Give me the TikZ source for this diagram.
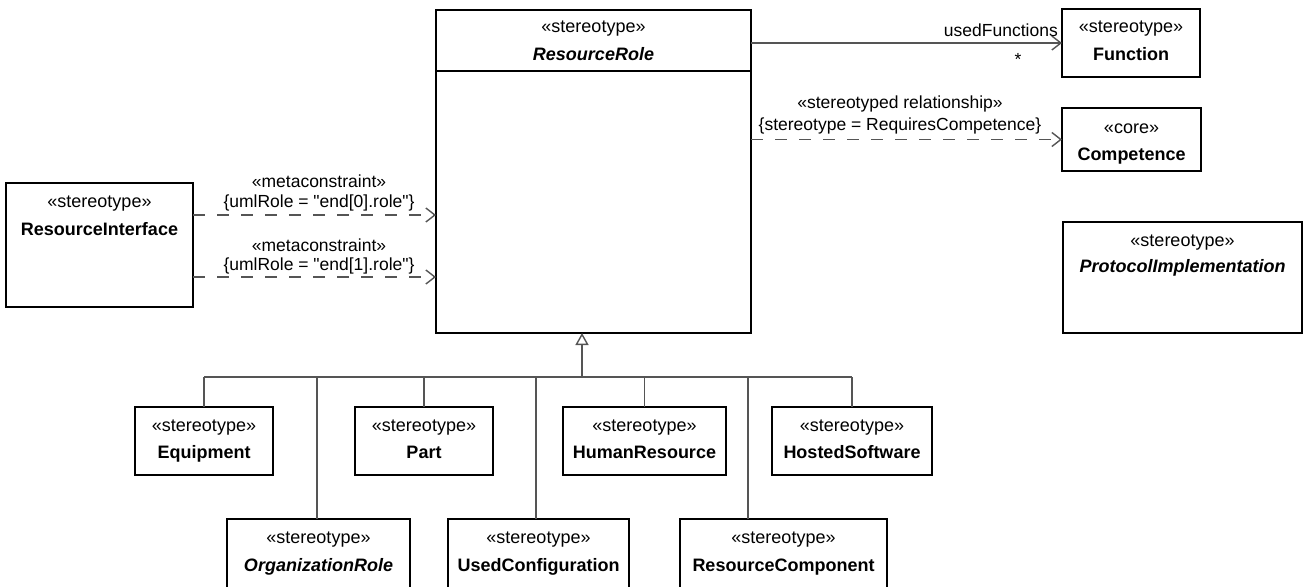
\documentclass[tikz,border=0pt]{standalone}
\usepackage{fontspec}
\setmainfont{Liberation Sans}
\usetikzlibrary{arrows.meta}
\definecolor{linegray}{RGB}{85,85,85}
\tikzset{
  classbox/.style={draw=black, line width=1.8pt, fill=white, anchor=north west, inner sep=0pt, outer sep=0pt},
  stereo/.style={anchor=base, font=\fontsize{18}{21}\selectfont},
  cname/.style={anchor=base, font=\fontsize{18}{21}\selectfont\bfseries},
  cnamei/.style={cname, font=\fontsize{18}{21}\selectfont\bfseries\itshape},
  lbl/.style={anchor=base, inner sep=0pt, font=\fontsize{17.5}{21}\selectfont},
  genline/.style={draw=linegray, line width=1.4pt},
  assoc/.style={genline, -{Straight Barb[length=9pt,width=14pt]}},
  depend/.style={assoc, dash pattern=on 12pt off 12pt},
}
\begin{document}
\begin{tikzpicture}[x=1pt, y=-1pt]
	\useasboundingbox (0,0) rectangle (1305,586);
	\clip (0,0) rectangle (1305,586);
	% central class
	\node[classbox, minimum width=315pt, minimum height=323pt] (rrole) at (436,10) {};
	\draw[line width=1.8pt] ([yshift=-61pt]rrole.north west) -- ([yshift=-61pt]rrole.north east);
	\node[stereo] (rrole-st) at ([yshift=-23pt]rrole.north) {«stereotype»};
	\node[cnamei] (rrole-nm) at ([yshift=-50pt]rrole.north) {ResourceRole};
	% right column
	\node[classbox, minimum width=138pt, minimum height=68pt] (func) at (1062,9) {};
	\node[stereo] (func-st) at ([yshift=-24pt]func.north) {«stereotype»};
	\node[cname] (func-nm) at ([yshift=-51pt]func.north) {Function};
	\node[classbox, minimum width=139pt, minimum height=63pt] (compet) at (1062,108) {};
	\node[stereo] (compet-st) at ([yshift=-25pt]compet.north) {«core»};
	\node[cname] (compet-nm) at ([yshift=-52pt]compet.north) {Competence};
	\node[classbox, minimum width=239pt, minimum height=111pt] (proto) at (1063,222) {};
	\node[stereo] (proto-st) at ([yshift=-24pt]proto.north) {«stereotype»};
	\node[cnamei] (proto-nm) at ([yshift=-50pt]proto.north) {ProtocolImplementation};
	% left class
	\node[classbox, minimum width=187pt, minimum height=124pt] (rif) at (6,183) {};
	\node[stereo] (rif-st) at ([yshift=-24pt]rif.north) {«stereotype»};
	\node[cname] (rif-nm) at ([yshift=-52pt]rif.north) {ResourceInterface};
	% associations
	\draw[assoc] (func.west -| rrole.east) -- (func.west);
	\node[lbl, anchor=base east] (usedfn) at (1058,37) {usedFunctions};
	\node[lbl] (mult) at (1018,65) {*};
	\draw[depend] (compet.west -| rrole.east) -- (compet.west);
	\node[lbl] (relst) at (900,108) {«stereotyped relationship»};
	\node[lbl] (reltag) at (900,130) {\{stereotype = RequiresCompetence\}};
	\draw[depend] ([yshift=30pt]rif.east) -- ([yshift=30pt]rif.east -| rrole.west);
	\node[lbl] (meta0) at (319,187) {«metaconstraint»};
	\node[lbl] (tag0) at (319,207) {\{umlRole = \textquotedbl end[0].role\textquotedbl\}};
	\draw[depend] ([yshift=-32pt]rif.east) -- ([yshift=-32pt]rif.east -| rrole.west);
	\node[lbl] (meta1) at (319,251) {«metaconstraint»};
	\node[lbl] (tag1) at (319,270) {\{umlRole = \textquotedbl end[1].role\textquotedbl\}};
	% generalization tree
	\coordinate (genbus) at (582,377);
	\draw[genline, -{Triangle[open, length=12pt, width=13pt]}] (genbus) -- (genbus |- rrole.south);
	\foreach \n/\x/\w/\t in {equip/135/138pt/Equipment, part/355/138pt/Part, human/563/163pt/HumanResource, hosted/772/160pt/HostedSoftware} {
		\node[classbox, minimum width=\w, minimum height=68pt] (\n) at (\x,407) {};
		\node[stereo] (\n-st) at ([yshift=-24pt]\n.north) {«stereotype»};
		\node[cname] (\n-nm) at ([yshift=-51pt]\n.north) {\t};
		\draw[genline] (\n.north) -- (\n.north |- genbus);
	}
	\foreach \n/\x/\w/\lx/\t in {orgrole/227/183pt/317/\textit{OrganizationRole}, usedcfg/448/181pt/536/UsedConfiguration, rescomp/680/207pt/748/ResourceComponent} {
		\node[classbox, minimum width=\w, minimum height=80pt] (\n) at (\x,519) {};
		\node[stereo] (\n-st) at ([yshift=-24pt]\n.north) {«stereotype»};
		\node[cname] (\n-nm) at ([yshift=-52pt]\n.north) {\t};
		\draw[genline] (\lx,0 |- \n.north) -- (\lx,0 |- genbus);
	}
	\draw[genline] (equip.north |- genbus) -- (hosted.north |- genbus);
\end{tikzpicture}
\end{document}
